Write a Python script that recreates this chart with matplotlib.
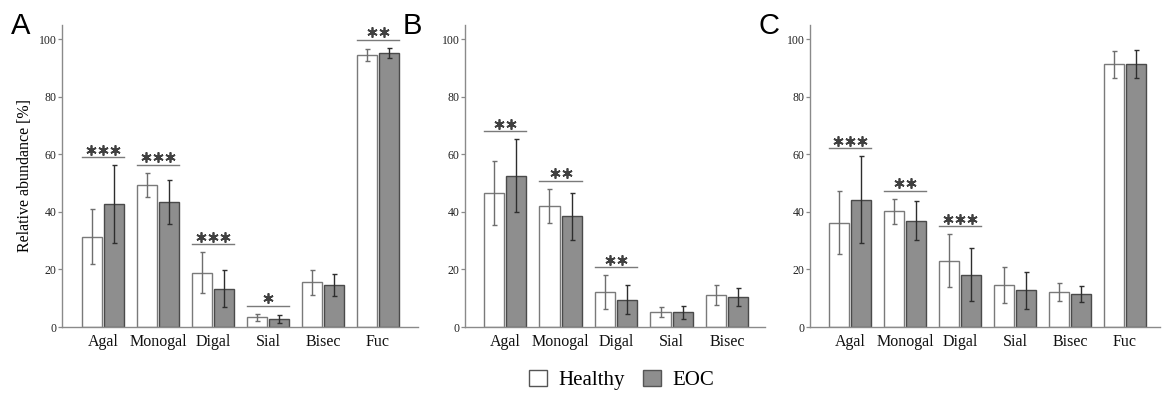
import matplotlib
matplotlib.use("Agg")
import matplotlib.pyplot as plt
import matplotlib.transforms as mtransforms
from matplotlib.patches import Patch
import numpy as np

# panel A
cats_a = ['Agal', 'Monogal', 'Digal', 'Sial', 'Bisec', 'Fuc']
a_healthy = [31.4, 49.3, 18.9, 3.3, 15.5, 94.4]
a_healthy_sd = [9.6, 4.2, 7.1, 1.2, 4.45, 2.2]
a_eoc = [42.6, 43.5, 13.3, 2.7, 14.6, 95.2]
a_eoc_sd = [13.6, 7.6, 6.5, 1.3, 3.8, 1.7]
a_sig = [3, 3, 3, 1, 0, 2]

# panel B
cats_b = ['Agal', 'Monogal', 'Digal', 'Sial', 'Bisec']
b_healthy = [46.5, 42.0, 12.0, 5.1, 11.2]
b_healthy_sd = [11.1, 5.9, 5.9, 1.7, 3.5]
b_eoc = [52.5, 38.4, 9.5, 5.1, 10.4]
b_eoc_sd = [12.7, 8.2, 5.1, 2.3, 3.0]
b_sig = [2, 2, 2, 0, 0]

# panel C
cats_c = ['Agal', 'Monogal', 'Digal', 'Sial', 'Bisec', 'Fuc']
c_healthy = [36.2, 40.2, 23.0, 14.6, 12.2, 91.2]
c_healthy_sd = [11.0, 4.3, 9.15, 6.35, 3.1, 4.6]
c_eoc = [44.2, 36.9, 18.2, 12.7, 11.5, 91.4]
c_eoc_sd = [15.1, 6.8, 9.25, 6.3, 2.8, 4.8]
c_sig = [3, 2, 3, 0, 0, 0]

SERIF = 'Liberation Serif'
EOC_COL = '#8e8e8e'
SPINE = '#8a8a8a'

fig = plt.figure(figsize=(11.62, 3.94), dpi=100)
bot = 1 - 327 / 394.
hgt = (327 - 24.6) / 394.


def panel(rect, xlim, cats, h, hsd, e, esd, sig, letter, letter_x, ylabel=False):
    ax = fig.add_axes(rect)
    x = np.arange(len(cats))
    w = 0.364
    ax.bar(x - 0.2, h, w, yerr=hsd, color='white', edgecolor='#7a7a7a', linewidth=1.0,
           error_kw=dict(ecolor='#6e6e6e', elinewidth=1.0, capsize=1.8, capthick=1.0), zorder=2)
    ax.bar(x + 0.2, e, w, yerr=esd, color=EOC_COL, edgecolor='#4a4a4a', linewidth=1.0,
           error_kw=dict(ecolor='#2e2e2e', elinewidth=1.0, capsize=1.8, capthick=1.0), zorder=2)
    # stars sit ~7 px above the line
    up = ax.transData + mtransforms.ScaledTranslation(0, 7.5 / 100., fig.dpi_scale_trans)
    for i, n in enumerate(sig):
        if n == 0:
            continue
        top = max(h[i] + hsd[i], e[i] + esd[i]) + 2.8
        ax.plot([i - 0.382, i + 0.382], [top, top], color='#7a7a7a', lw=1.0)
        sx = i + (np.arange(n) - (n - 1) / 2.) * 0.215
        ax.plot(sx, [top] * n, ls='none', marker=(6, 2, 0), ms=7.4, mew=1.25,
                color='#404040', transform=up, clip_on=False)
    ax.set_xlim(*xlim)
    ax.set_ylim(0, 105)
    ax.set_yticks([0, 20, 40, 60, 80, 100])
    ax.set_xticks(x)
    ax.set_xticklabels(cats, family=SERIF, fontsize=11.5, color='#111111')
    for i, lab in enumerate(ax.get_xticklabels()):
        if i >= 3:
            lab.set_transform(lab.get_transform() +
                              mtransforms.ScaledTranslation(0, -1.6 / 100, fig.dpi_scale_trans))
    ax.tick_params(axis='x', length=0, pad=5)
    ax.tick_params(axis='y', length=3, width=0.9, color=SPINE, pad=1,
                   labelsize=8.5, labelcolor='#222222')
    for lab in ax.get_yticklabels():
        lab.set_family(SERIF)
    for sp in ['top', 'right']:
        ax.spines[sp].set_visible(False)
    for sp in ['left', 'bottom']:
        ax.spines[sp].set_color(SPINE)
        ax.spines[sp].set_linewidth(1.0)
    if ylabel:
        ax.set_ylabel('Relative abundance [%]', family=SERIF, fontsize=11.5, labelpad=4)
    fig.text(letter_x, 1 - 34 / 394., letter, family='Liberation Sans', fontsize=21,
             va='baseline', ha='left')
    return ax


panel([62 / 1162., bot, 356 / 1162., hgt], (-0.745, 5.727), cats_a,
      a_healthy, a_healthy_sd, a_eoc, a_eoc_sd, a_sig, 'A', 11 / 1162., ylabel=True)
panel([465 / 1162., bot, 300 / 1162., hgt], (-0.72, 4.68), cats_b,
      b_healthy, b_healthy_sd, b_eoc, b_eoc_sd, b_sig, 'B', 403 / 1162.)
panel([810 / 1162., bot, 350 / 1162., hgt], (-0.727, 5.64), cats_c,
      c_healthy, c_healthy_sd, c_eoc, c_eoc_sd, c_sig, 'C', 758 / 1162.)

handles = [Patch(facecolor='white', edgecolor='#555555', linewidth=1.0, label='Healthy'),
           Patch(facecolor=EOC_COL, edgecolor='#555555', linewidth=1.0, label='EOC')]
fig.legend(handles=handles, loc='center', bbox_to_anchor=(0.535, 1 - 380 / 394.), ncol=2,
           frameon=False, prop={'family': SERIF, 'size': 15}, handlelength=0.86,
           handleheight=0.86, handletextpad=0.55, columnspacing=0.9)

fig.savefig('out.png', dpi=100)
